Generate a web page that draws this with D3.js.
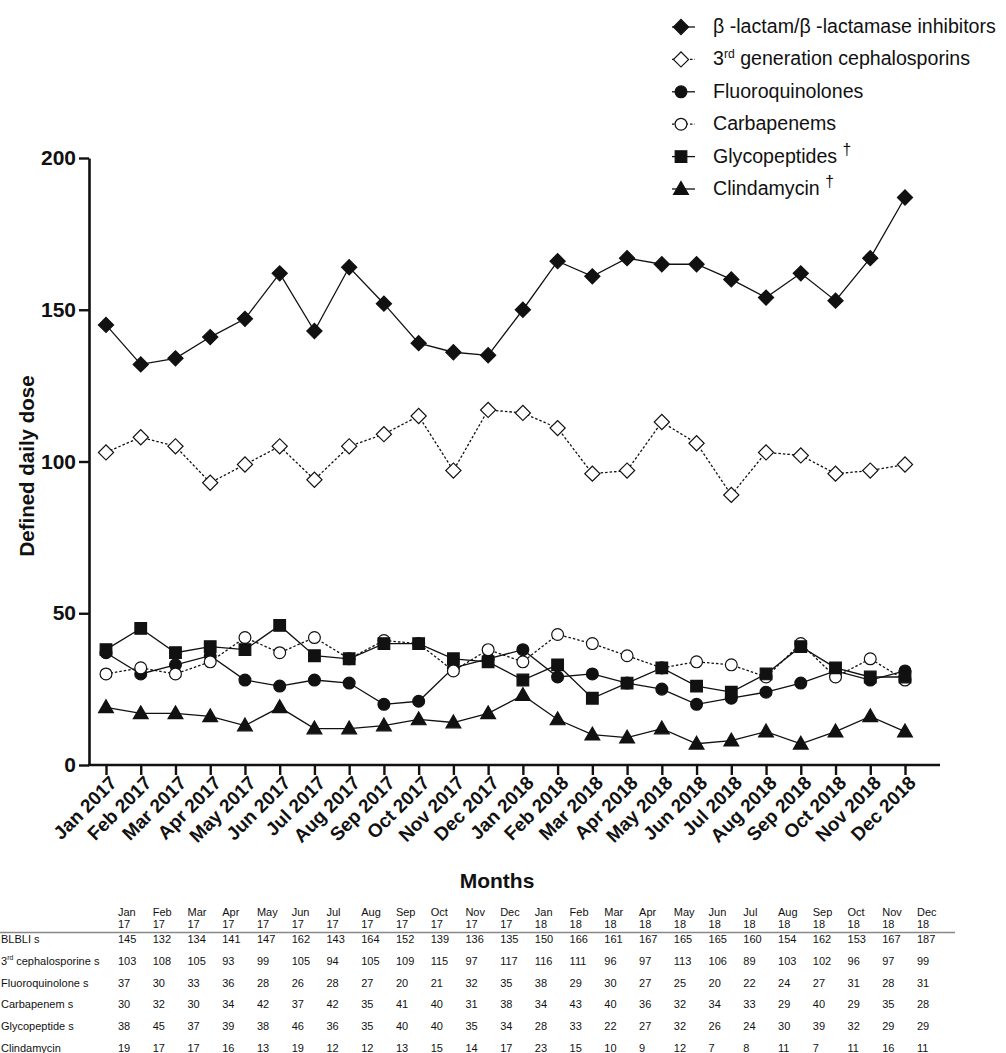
<!DOCTYPE html>
<html><head><meta charset="utf-8">
<script src="https://cdn.jsdelivr.net/npm/d3@7"></script>
<style>body{margin:0;background:#fff}svg{display:block}text{font-family:"Liberation Sans",Arial,sans-serif;fill:#111}</style>
</head><body>
<svg id="c" width="1006" height="1053"></svg>
<script>
const months = ["Jan 2017","Feb 2017","Mar 2017","Apr 2017","May 2017","Jun 2017","Jul 2017","Aug 2017","Sep 2017","Oct 2017","Nov 2017","Dec 2017","Jan 2018","Feb 2018","Mar 2018","Apr 2018","May 2018","Jun 2018","Jul 2018","Aug 2018","Sep 2018","Oct 2018","Nov 2018","Dec 2018"];
const tableMonths = ["Jan","Feb","Mar","Apr","May","Jun","Jul","Aug","Sep","Oct","Nov","Dec","Jan","Feb","Mar","Apr","May","Jun","Jul","Aug","Sep","Oct","Nov","Dec"];
const tableYears = ["17","17","17","17","17","17","17","17","17","17","17","17","18","18","18","18","18","18","18","18","18","18","18","18"];
const blbli = [145,132,134,141,147,162,143,164,152,139,136,135,150,166,161,167,165,165,160,154,162,153,167,187];
const ceph3 = [103,108,105,93,99,105,94,105,109,115,97,117,116,111,96,97,113,106,89,103,102,96,97,99];
const fluoro = [37,30,33,36,28,26,28,27,20,21,32,35,38,29,30,27,25,20,22,24,27,31,28,31];
const carba = [30,32,30,34,42,37,42,35,41,40,31,38,34,43,40,36,32,34,33,29,40,29,35,28];
const glyco = [38,45,37,39,38,46,36,35,40,40,35,34,28,33,22,27,32,26,24,30,39,32,29,29];
const clinda = [19,17,17,16,13,19,12,12,13,15,14,17,23,15,10,9,12,7,8,11,7,11,16,11];
const yTicks = [0,50,100,150,200];
const legendNames = ["β -lactam/β -lactamase inhibitors","3|rd| generation cephalosporins","Fluoroquinolones","Carbapenems","Glycopeptides |†|","Clindamycin |†|"];
const tableNames = ["BLBLI s","3|rd| cephalosporine s","Fluoroquinolone s","Carbapenem s","Glycopeptide s","Clindamycin"];

const series = [
  {vals: blbli, sym: "diamond", fill: "#111", dash: null},
  {vals: ceph3, sym: "diamond", fill: "#fff", dash: "2.5,2"},
  {vals: fluoro, sym: "circle", fill: "#111", dash: null},
  {vals: carba, sym: "circle", fill: "#fff", dash: "2.5,2"},
  {vals: glyco, sym: "square", fill: "#111", dash: null},
  {vals: clinda, sym: "triangle", fill: "#111", dash: null}
];

const svg = d3.select("#c");
const x = d3.scalePoint().domain(months).range([106, 905]);
const y = d3.scaleLinear().domain([0, 200]).range([765, 158]);

function symPath(s) {
  if (s === "diamond") return d3.symbol().type(d3.symbolSquare).size(115)();
  if (s === "circle") return d3.symbol().type(d3.symbolCircle).size(110)();
  if (s === "square") return d3.symbol().type(d3.symbolSquare).size(135)();
  return d3.symbol().type(d3.symbolTriangle).size(95)();
}
function drawSym(g, s, fill, cx, cy) {
  const p = g.append("path").attr("d", symPath(s))
    .attr("fill", fill).attr("stroke", "#111").attr("stroke-width", 1.2);
  if (s === "diamond") p.attr("transform", `translate(${cx},${cy}) rotate(45)`);
  else if (s === "triangle") p.attr("transform", `translate(${cx},${cy+1})`);
  else p.attr("transform", `translate(${cx},${cy})`);
  return p;
}

// axes
const yAxis = d3.axisLeft(y).tickValues(yTicks).tickSize(10).tickSizeOuter(0).tickPadding(3);
const gy = svg.append("g").attr("transform", "translate(89,0)").call(yAxis);
gy.select(".domain").attr("stroke", "#111").attr("stroke-width", 2.6);
gy.selectAll(".tick line").attr("stroke", "#111").attr("stroke-width", 2.4);
gy.selectAll(".tick text").attr("font-size", 21).attr("font-weight", "bold").attr("fill", "#111")
  .attr("font-family", "Liberation Sans, Arial, sans-serif");

const xAxis = d3.axisBottom(x).tickSize(10).tickSizeOuter(0).tickFormat("");
const gx = svg.append("g").attr("transform", "translate(0,765)").call(xAxis);
gx.select(".domain").remove();
gx.selectAll(".tick line").attr("stroke", "#111").attr("stroke-width", 2.4);
svg.append("line").attr("x1", 88).attr("x2", 940).attr("y1", 765).attr("y2", 765)
  .attr("stroke", "#111").attr("stroke-width", 2.6);

svg.append("g").selectAll("text").data(months).join("text")
  .attr("text-anchor", "end").attr("font-size", 19).attr("font-weight", "bold")
  .attr("transform", d => `translate(${x(d) + 12},${784}) rotate(-45)`)
  .text(d => d);

svg.append("text").attr("x", 497).attr("y", 888).attr("text-anchor", "middle")
  .attr("font-size", 21).attr("font-weight", "bold").text("Months");
svg.append("text").attr("transform", "translate(34,466) rotate(-90)").attr("text-anchor", "middle")
  .attr("font-size", 20.5).attr("font-weight", "bold").text("Defined daily dose");

// series
const line = d3.line().x((d, i) => x(months[i])).y(d => y(d));
series.forEach(s => {
  svg.append("path").datum(s.vals).attr("d", line).attr("fill", "none")
    .attr("stroke", "#111").attr("stroke-width", 1.3)
    .attr("stroke-dasharray", s.dash);
});
series.forEach(s => {
  const g = svg.append("g");
  s.vals.forEach((v, i) => drawSym(g, s.sym, s.fill, x(months[i]), y(v)));
});

// legend
function richText(sel, str, fs) {
  const parts = str.split("|");
  parts.forEach((p, k) => {
    if (p === "") return;
    const t = sel.append("tspan").text(p).attr("fill", "#111");
    if (k === 1) {
      const sc = p === "†" ? 0.8 : 0.62;
      t.attr("font-size", fs * sc).attr("dy", -fs * 0.4);
    }
    if (k === 2) t.attr("dy", fs * 0.4);
  });
}
const lg = svg.append("g");
legendNames.forEach((n, i) => {
  const by = 33 + i * 32.4;
  const cy = by - 6;
  const s = series[i];
  lg.append("line").attr("x1", 672).attr("x2", 695).attr("y1", cy).attr("y2", cy)
    .attr("stroke", "#111").attr("stroke-width", 1.3).attr("stroke-dasharray", s.dash);
  drawSym(lg, s.sym, s.fill, 681, cy);
  const t = lg.append("text").attr("x", 713).attr("y", by).attr("font-size", 19.6);
  richText(t, n, 19.6);
});

// table
const tg = svg.append("g");
const colX = m => x(m) + 12;
months.forEach((m, i) => {
  tg.append("text").attr("x", colX(m)).attr("y", 916).attr("font-size", 11).text(tableMonths[i]);
  tg.append("text").attr("x", colX(m)).attr("y", 928).attr("font-size", 11).text(tableYears[i]);
});
tg.append("line").attr("x1", 0).attr("x2", 955).attr("y1", 932.5).attr("y2", 932.5)
  .attr("stroke", "#888").attr("stroke-width", 1.5);
series.forEach((s, r) => {
  const by = 943 + r * 21.8;
  const t = tg.append("text").attr("x", 1).attr("y", by).attr("font-size", 11);
  richText(t, tableNames[r], 11);
  s.vals.forEach((v, i) => {
    tg.append("text").attr("x", colX(months[i])).attr("y", by).attr("font-size", 11).text(v);
  });
});
</script>
</body></html>
